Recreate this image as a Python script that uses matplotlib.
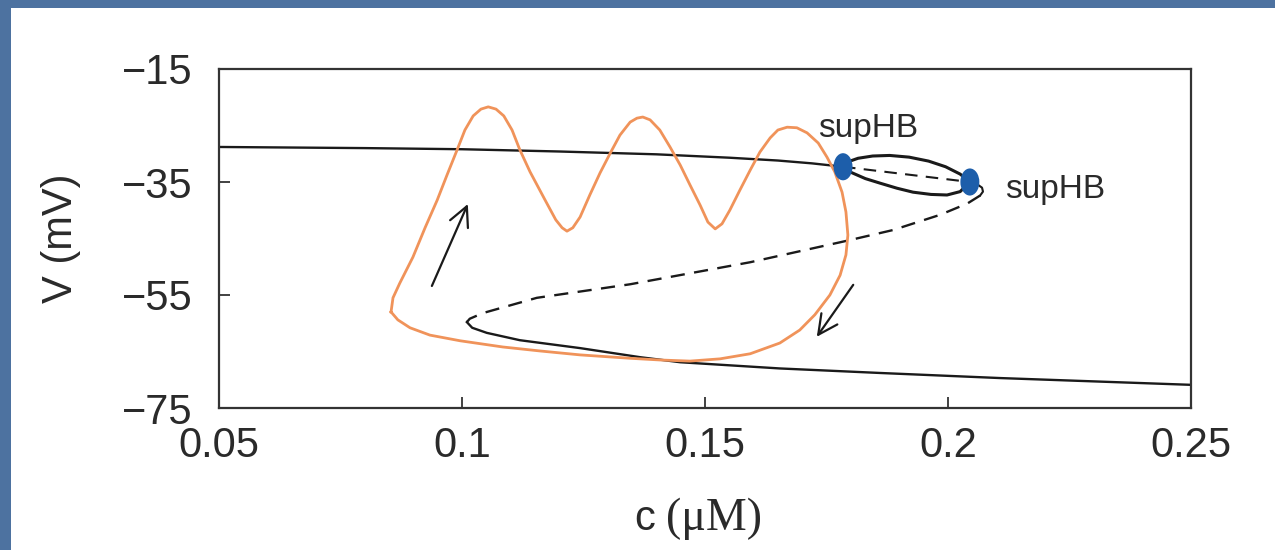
import matplotlib
matplotlib.use("Agg")
import matplotlib.pyplot as plt
from matplotlib.patches import Rectangle, Ellipse

# ---------------- data ----------------
x_ticks = [0.05, 0.1, 0.15, 0.2, 0.25]
x_ticklabels = ["0.05", "0.1", "0.15", "0.2", "0.25"]
y_ticks = [-75, -55, -35, -15]
y_ticklabels = ["\u221275", "\u221255", "\u221235", "\u221215"]

# upper stable steady-state branch
upper_c = [0.05, 0.08, 0.10, 0.12, 0.14, 0.155, 0.165, 0.172, 0.1784]
upper_V = [-28.8, -29.0, -29.2, -29.6, -30.1, -30.7, -31.2, -31.7, -32.3]

# unstable steady state between the two Hopf points
between_c = [0.1784, 0.2045]
between_V = [-32.3, -35.0]

# short stable piece after second Hopf to the upper knee
hook_c = [0.2045, 0.2060, 0.2070, 0.2072, 0.2066]
hook_V = [-35.0, -35.4, -36.0, -36.7, -37.4]

# middle unstable branch (dashed)
middle_c = [0.2066, 0.2040, 0.1984, 0.1887, 0.1792, 0.1593, 0.1346, 0.1154, 0.1043, 0.1016, 0.1010]
middle_V = [-37.4, -38.8, -40.8, -43.5, -45.4, -49.2, -53.1, -55.5, -58.2, -59.2, -59.8]

# lower stable branch
lower_c = [0.1010, 0.1021, 0.1051, 0.1119, 0.1243, 0.1366, 0.1449, 0.1654, 0.1860, 0.2107, 0.2500]
lower_V = [-59.8, -60.8, -61.7, -63.0, -64.4, -66.0, -66.9, -68.0, -68.8, -69.7, -70.9]

# periodic orbit branch (max / min)
po_max_c = [0.1784, 0.1795, 0.1815, 0.1845, 0.1880, 0.1920, 0.1960, 0.1995, 0.2025, 0.2045]
po_max_V = [-32.3, -31.4, -30.8, -30.4, -30.3, -30.6, -31.3, -32.3, -33.6, -35.0]
po_min_c = [0.1784, 0.1798, 0.1830, 0.1860, 0.1895, 0.1928, 0.1965, 0.1998, 0.2025, 0.2045]
po_min_V = [-32.3, -33.2, -34.4, -35.2, -36.1, -36.8, -37.2, -37.3, -36.7, -35.0]

# Hopf bifurcation points
hb_c = [0.1784, 0.2045]
hb_V = [-32.3, -35.0]
hb_labels = ["supHB", "supHB"]
hb_label_c = [0.1733, 0.2117]
hb_label_V = [-27.0, -37.8]

# bursting trajectory
traj_c = [0.0854, 0.0858, 0.0872, 0.0899, 0.0924, 0.0949, 0.0969, 0.0990, 0.1006, 0.1023,
          0.1039, 0.1054, 0.1070, 0.1086, 0.1103, 0.1119, 0.1140, 0.1171, 0.1193, 0.1206,
          0.1216, 0.1228, 0.1243, 0.1263, 0.1284, 0.1305, 0.1325, 0.1346, 0.1360, 0.1372,
          0.1387, 0.1407, 0.1428, 0.1449, 0.1469, 0.1490, 0.1506, 0.1521, 0.1535, 0.1551,
          0.1572, 0.1593, 0.1613, 0.1634, 0.1650, 0.1669, 0.1689, 0.1710, 0.1733, 0.1751,
          0.1767, 0.1782, 0.1790, 0.1794, 0.1790, 0.1778, 0.1757, 0.1726, 0.1695, 0.1654,
          0.1593, 0.1531, 0.1469, 0.1407, 0.1346, 0.1243, 0.1160, 0.1084, 0.0996, 0.0934,
          0.0893, 0.0868, 0.0854]
traj_V = [-58.0, -55.5, -52.9, -48.3, -43.1, -38.2, -33.8, -29.3, -25.8, -23.3,
          -22.1, -21.7, -22.1, -23.3, -25.8, -29.3, -33.2, -38.2, -41.7, -43.1,
          -43.7, -43.1, -41.2, -37.3, -33.4, -29.9, -26.7, -24.4, -23.7, -23.5,
          -24.0, -25.8, -28.8, -32.0, -35.5, -39.1, -42.1, -43.3, -42.4, -40.0,
          -36.4, -32.9, -29.7, -27.2, -25.8, -25.3, -25.4, -26.3, -28.1, -30.6,
          -33.2, -36.8, -40.3, -44.4, -47.9, -51.5, -55.0, -58.5, -61.2, -63.5,
          -65.4, -66.3, -66.7, -66.5, -66.2, -65.6, -64.9, -64.2, -63.1, -62.1,
          -60.8, -59.4, -58.0]

# direction arrows (tail -> head)
arrow_tail_c = [0.0938, 0.1805]
arrow_tail_V = [-53.4, -53.2]
arrow_head_c = [0.1012, 0.1730]
arrow_head_V = [-38.9, -62.4]

# ---------------- figure ----------------
W, H = 1275, 550
fig = plt.figure(figsize=(W / 100, H / 100), dpi=100)
fig.patch.set_facecolor("#4d72a0")
bg = Rectangle((11 / W, 0), 1, 1 - 8 / H, transform=fig.transFigure,
               facecolor="white", edgecolor="none", zorder=-10)
fig.patches.append(bg)

ax = fig.add_axes([219 / W, 1 - 408 / H, (1191 - 219) / W, (408 - 69) / H])
ax.set_zorder(1)
ax.set_facecolor("white")
ax.set_xlim(0.05, 0.25)
ax.set_ylim(-75, -15)

font = "Liberation Sans"
tc_col = "#2a2a2a"
ax.set_xticks(x_ticks)
ax.set_xticklabels(x_ticklabels, fontsize=30, family=font, color=tc_col)
ax.set_yticks(y_ticks)
ax.set_yticklabels(y_ticklabels, fontsize=30, family=font, color=tc_col)
ax.tick_params(axis="both", direction="in", length=8, width=1.3, color="#333333")
ax.tick_params(axis="x", pad=13)
ax.tick_params(axis="y", pad=19)
for s in ax.spines.values():
    s.set_linewidth(1.6)
    s.set_color("#333333")

lc = "#1a1a1a"
ax.plot(upper_c, upper_V, color=lc, lw=1.7, solid_capstyle="round")
ax.plot(between_c, between_V, color=lc, lw=1.5, dashes=(6, 4))
ax.plot(hook_c, hook_V, color=lc, lw=1.5)
ax.plot(middle_c, middle_V, color=lc, lw=1.7, dashes=(6, 4))
ax.plot(lower_c, lower_V, color=lc, lw=1.7)
ax.plot(po_max_c, po_max_V, color=lc, lw=2.2, solid_joinstyle="round")
ax.plot(po_min_c, po_min_V, color=lc, lw=2.2, solid_joinstyle="round")

ax.plot(traj_c, traj_V, color="#f0935a", lw=2.0, solid_joinstyle="round", zorder=3)

for c, v in zip(hb_c, hb_V):
    ax.add_patch(Ellipse((c, v), 0.0039, 4.8, facecolor="#1d5eaa", edgecolor="none", zorder=5))
for lab, c, v in zip(hb_labels, hb_label_c, hb_label_V):
    ax.text(c, v, lab, fontsize=24, family=font, color=tc_col, ha="left", va="baseline")

for tcc, tv, hc, hv in zip(arrow_tail_c, arrow_tail_V, arrow_head_c, arrow_head_V):
    ax.annotate("", xy=(hc, hv), xytext=(tcc, tv),
                arrowprops=dict(arrowstyle="->,head_length=0.5,head_width=0.25", color=lc, lw=1.6,
                                mutation_scale=28, shrinkA=0, shrinkB=0))

# axis labels
fig.text(61 / W, 1 - 238 / H, "V (mV)", rotation=90, ha="center", va="center",
         fontsize=30, family=font, color=tc_col)
fig.text(655 / W, 1 - 530 / H, "c", ha="right", va="baseline",
         fontsize=30, family=font, color=tc_col)
fig.text(666 / W, 1 - 530 / H, "(\u03bcM)", ha="left", va="baseline",
         fontsize=33, family="Liberation Serif", color=tc_col)

fig.savefig("out.png", dpi=100, facecolor=fig.get_facecolor())
